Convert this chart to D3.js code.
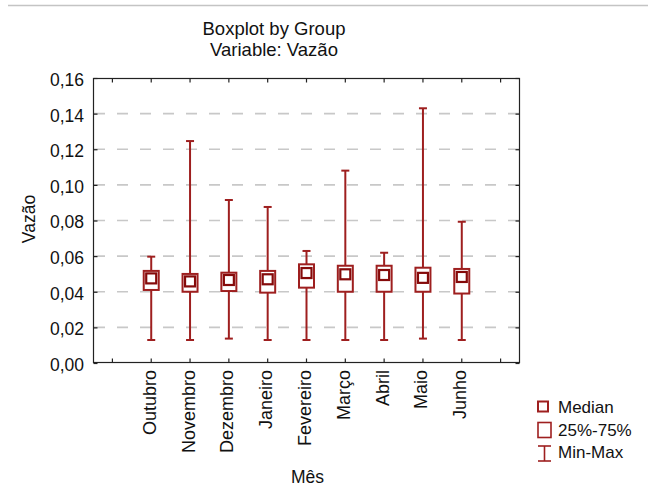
<!DOCTYPE html>
<html>
<head>
<meta charset="utf-8">
<script src="https://cdn.jsdelivr.net/npm/d3@7"></script>
<style>
  html, body { margin: 0; padding: 0; background: #fff; }
  svg { display: block; }
  text { font-family: "Liberation Sans", Arial, sans-serif; fill: #111; }
</style>
</head>
<body>
<svg id="chart" width="648" height="490"></svg>
<script>
// ---- data ----
const months = ["Outubro", "Novembro", "Dezembro", "Janeiro", "Fevereiro", "Março", "Abril", "Maio", "Junho"];
const minVals = [0.0129, 0.0129, 0.0137, 0.0129, 0.0129, 0.0129, 0.0129, 0.0137, 0.0129];
const q1Vals  = [0.0410, 0.0400, 0.0404, 0.0395, 0.0423, 0.0400, 0.0400, 0.0400, 0.0390];
const medVals = [0.0475, 0.0458, 0.0466, 0.0470, 0.0505, 0.0498, 0.0494, 0.0478, 0.0483];
const q3Vals  = [0.0517, 0.0500, 0.0507, 0.0517, 0.0554, 0.0546, 0.0546, 0.0535, 0.0528];
const maxVals = [0.0597, 0.1246, 0.0915, 0.0876, 0.0629, 0.1080, 0.0619, 0.1430, 0.0793];
const yTicks = [0, 0.02, 0.04, 0.06, 0.08, 0.10, 0.12, 0.14, 0.16];
const titleLines = ["Boxplot by Group", "Variable: Vazão"];
const legendItems = ["Median", "25%-75%", "Min-Max"];

const W = 648, H = 490;
const margin = { left: 93, right: 128, top: 78, bottom: 127 };
const plotL = margin.left, plotR = W - margin.right, plotT = margin.top, plotB = H - margin.bottom;

const red = "#9e1f1f", redDark = "#850a0a";

const svg = d3.select("#chart");

// top separator line
svg.append("line").attr("x1", 8).attr("x2", W).attr("y1", 5.5).attr("y2", 5.5)
  .attr("stroke", "#c4c4c4").attr("stroke-width", 1.5);

// scales
const slots = ["__a"].concat(months).concat(["__b"]);
const x = d3.scaleBand().domain(slots).range([plotL, plotR]).paddingInner(0).paddingOuter(0);
const y = d3.scaleLinear().domain([0, 0.16]).range([plotB, plotT]);
const cx = m => x(m) + x.bandwidth() / 2;

// grid
svg.append("g").selectAll("line").data(yTicks.filter(t => t > 0 && t < 0.16)).join("line")
  .attr("x1", plotL + 1).attr("x2", plotR - 1)
  .attr("y1", d => y(d)).attr("y2", d => y(d))
  .attr("stroke", "#c8c8c8").attr("stroke-width", 1.6)
  .attr("stroke-dasharray", "11,12");

// frame
svg.append("rect").attr("x", plotL + 0.5).attr("y", plotT + 0.5)
  .attr("width", plotR - plotL - 1).attr("height", plotB - plotT - 1)
  .attr("fill", "none").attr("stroke", "#222").attr("stroke-width", 1.2);

// axes with inward ticks
const fmt = d => d.toFixed(2).replace(".", ",");
const gLeft = svg.append("g").attr("transform", `translate(${plotL + 0.5},0)`)
  .call(d3.axisRight(y).tickValues(yTicks).tickSize(4).tickFormat(""));
const gRight = svg.append("g").attr("transform", `translate(${plotR - 0.5},0)`)
  .call(d3.axisLeft(y).tickValues(yTicks).tickSize(4).tickFormat(""));
const gBottom = svg.append("g").attr("transform", `translate(0,${plotB - 0.5})`)
  .call(d3.axisTop(x).tickSize(4).tickFormat(""));
const gTop = svg.append("g").attr("transform", `translate(0,${plotT + 0.5})`)
  .call(d3.axisBottom(x).tickSize(4).tickFormat(""));
[gLeft, gRight, gBottom, gTop].forEach(g => {
  g.select(".domain").remove();
  g.selectAll(".tick line").attr("stroke", "#222").attr("stroke-width", 1.2);
});

// y tick labels
svg.append("g").selectAll("text").data(yTicks).join("text")
  .attr("x", plotL - 9).attr("y", d => y(d)).attr("dy", "0.45em")
  .attr("text-anchor", "end").attr("font-size", 17.5)
  .text(fmt);

// x tick labels
svg.append("g").selectAll("text").data(months).join("text")
  .attr("transform", d => `translate(${cx(d) + 4.5},${plotB + 7}) rotate(-90)`)
  .attr("text-anchor", "end").attr("font-size", 18)
  .text(d => d);

// axis titles
svg.append("text").attr("x", (plotL + plotR) / 2 + 1).attr("y", 483)
  .attr("text-anchor", "middle").attr("font-size", 17.5).text("Mês");
svg.append("text").attr("transform", `translate(35,219) rotate(-90)`)
  .attr("text-anchor", "middle").attr("font-size", 17.5).text("Vazão");

// title
svg.append("g").selectAll("text").data(titleLines).join("text")
  .attr("x", 274).attr("y", (d, i) => 35 + i * 21)
  .attr("text-anchor", "middle").attr("font-size", 18.5).text(d => d);

// boxes
const data = months.map((m, i) => ({ m, min: minVals[i], q1: q1Vals[i], med: medVals[i], q3: q3Vals[i], max: maxVals[i] }));
const bw = 15, capW = 8, medW = 10;
const g = svg.append("g");
const grp = g.selectAll("g").data(data).join("g");
grp.append("line")
  .attr("x1", d => cx(d.m)).attr("x2", d => cx(d.m))
  .attr("y1", d => y(d.min)).attr("y2", d => y(d.max))
  .attr("stroke", red).attr("stroke-width", 2);
grp.append("line")
  .attr("x1", d => cx(d.m) - capW / 2).attr("x2", d => cx(d.m) + capW / 2)
  .attr("y1", d => y(d.max)).attr("y2", d => y(d.max))
  .attr("stroke", red).attr("stroke-width", 2);
grp.append("line")
  .attr("x1", d => cx(d.m) - capW / 2).attr("x2", d => cx(d.m) + capW / 2)
  .attr("y1", d => y(d.min)).attr("y2", d => y(d.min))
  .attr("stroke", red).attr("stroke-width", 2);
grp.append("rect")
  .attr("x", d => cx(d.m) - bw / 2).attr("width", bw)
  .attr("y", d => y(d.q3)).attr("height", d => y(d.q1) - y(d.q3))
  .attr("fill", "#fff").attr("stroke", red).attr("stroke-width", 2);
grp.append("rect")
  .attr("x", d => cx(d.m) - medW / 2).attr("width", medW)
  .attr("y", d => y(d.med) - medW / 2).attr("height", medW)
  .attr("fill", "#fff").attr("stroke", redDark).attr("stroke-width", 2.2);

// legend
const lx = 537, lg = svg.append("g");
lg.append("rect").attr("x", lx + 1).attr("y", 401.5).attr("width", 10).attr("height", 10)
  .attr("fill", "#fff").attr("stroke", red).attr("stroke-width", 2);
lg.append("rect").attr("x", lx + 1).attr("y", 422.5).attr("width", 13).attr("height", 15)
  .attr("fill", "#fff").attr("stroke", red).attr("stroke-width", 1.6);
lg.append("line").attr("x1", lx + 7.5).attr("x2", lx + 7.5).attr("y1", 446).attr("y2", 461)
  .attr("stroke", red).attr("stroke-width", 1.6);
lg.append("line").attr("x1", lx + 1).attr("x2", lx + 14).attr("y1", 446).attr("y2", 446)
  .attr("stroke", red).attr("stroke-width", 1.6);
lg.append("line").attr("x1", lx + 1).attr("x2", lx + 14).attr("y1", 461).attr("y2", 461)
  .attr("stroke", red).attr("stroke-width", 1.6);
lg.selectAll("text").data(legendItems).join("text")
  .attr("x", 558).attr("y", (d, i) => [413, 436, 458][i])
  .attr("font-size", 17).text(d => d);
</script>
</body>
</html>
